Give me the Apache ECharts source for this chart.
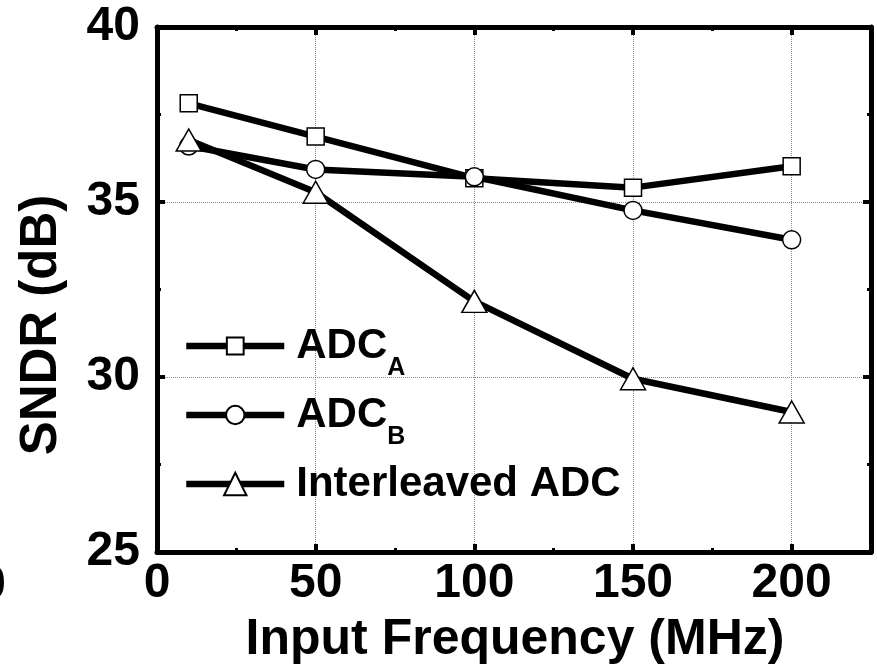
<!DOCTYPE html>
<html>
<head>
<meta charset="utf-8">
<script src="https://cdn.jsdelivr.net/npm/echarts@6/dist/echarts.min.js"></script>
<style>html,body{margin:0;padding:0;background:#fff}#c{width:877px;height:670px}</style>
</head>
<body>
<div id="c"></div>
<script>
var freq = [10, 50, 100, 150, 200];
var adcA = [37.82, 36.87, 35.68, 35.41, 36.02];
var adcB = [36.6, 35.93, 35.72, 34.76, 33.92];
var inter = [36.77, 35.28, 32.16, 29.95, 29.0];
var seriesNames = ['ADCA', 'ADCB', 'Interleaved ADC'];
var legendLabels = ['ADC{sub|A}', 'ADC{sub|B}', 'Interleaved ADC'];
var xTicks = [0, 50, 100, 150, 200];
var yTicks = [25, 30, 35, 40];

var FONT = "'Liberation Sans', Arial, sans-serif";
function pairs(xs, ys) { return xs.map(function (x, i) { return [x, ys[i]]; }); }

var chart = echarts.init(document.getElementById('c'), null, {renderer: 'canvas'});

var majorTick = {show: true, inside: true, length: 8, lineStyle: {color: '#000', width: 4}};
var minorTickStyle = {show: true, inside: true, length: 4, lineStyle: {color: '#000', width: 3}};
var frameLine = {show: true, onZero: false, lineStyle: {color: '#000', width: 5}};
var grid = {type: 'dotted', color: '#8a8a8a', width: 1};
var LW = 6.5;

function legendFor(i, top, ih) {
  return {
    show: true, orient: 'vertical', left: 183, top: top, padding: 0,
    selectedMode: false,
    itemWidth: 98, itemHeight: ih,
    lineStyle: {color: '#000', width: LW},
    data: [seriesNames[i]],
    formatter: function () { return legendLabels[i]; },
    textStyle: {
      fontFamily: FONT, fontWeight: 'bold', fontSize: 42, color: '#000',
      lineHeight: 70, padding: [0, 0, 0, 7],
      rich: {sub: {fontFamily: FONT, fontWeight: 'bold', fontSize: 25, lineHeight: 25, verticalAlign: 'bottom', color: '#000'}}
    }
  };
}

var option = {
  animation: false,
  backgroundColor: '#fff',
  grid: {left: 157, right: 6, top: 27, bottom: 118, containLabel: false},
  xAxis: [
    {type: 'value', position: 'bottom', min: 0, max: 225, interval: 50,
      axisLine: frameLine, axisTick: majorTick,
      axisLabel: {show: true, margin: 8, showMaxLabel: false, color: '#000', fontFamily: FONT, fontWeight: 'bold', fontSize: 48,
        formatter: function (v) { return xTicks.indexOf(v) >= 0 ? String(v) : ''; }},
      splitLine: {show: true, lineStyle: grid}},
    {type: 'value', position: 'top', min: 0, max: 225, interval: 50,
      axisLine: frameLine, axisTick: majorTick, axisLabel: {show: false}, splitLine: {show: false}},
    {type: 'value', position: 'bottom', min: 0, max: 225, interval: 25,
      axisLine: {show: false}, axisTick: minorTickStyle, axisLabel: {show: false}, splitLine: {show: false}},
    {type: 'value', position: 'top', min: 0, max: 225, interval: 25,
      axisLine: {show: false}, axisTick: minorTickStyle, axisLabel: {show: false}, splitLine: {show: false}}
  ],
  yAxis: [
    {type: 'value', position: 'left', min: 25, max: 40, interval: 5,
      axisLine: frameLine, axisTick: majorTick,
      minorTick: {show: true, splitNumber: 2, length: 4, lineStyle: {color: '#000', width: 3}},
      axisLabel: {show: true, margin: 17, color: '#000', fontFamily: FONT, fontWeight: 'bold', fontSize: 48, padding: [0, 0, 8, 0],
        formatter: function (v) { return yTicks.indexOf(v) >= 0 ? String(v) : ''; }},
      splitLine: {show: true, lineStyle: grid}},
    {type: 'value', position: 'right', min: 25, max: 40, interval: 5,
      axisLine: frameLine, axisTick: majorTick,
      minorTick: {show: true, splitNumber: 2, length: 4, lineStyle: {color: '#000', width: 3}},
      axisLabel: {show: false}, splitLine: {show: false}}
  ],
  legend: [legendFor(0, 311, 21), legendFor(1, 380, 23), legendFor(2, 449, 28)],
  graphic: [
    {type: 'text', x: 515, y: 640, style: {text: 'Input Frequency (MHz)', fontFamily: FONT, fontWeight: 'bold', fontSize: 50, fill: '#000', align: 'center', verticalAlign: 'middle'}},
    {type: 'text', x: 42, y: 325, rotation: Math.PI / 2, style: {text: 'SNDR (dB)', fontFamily: FONT, fontWeight: 'bold', fontSize: 51, fill: '#000', align: 'center', verticalAlign: 'middle'}},
    {type: 'text', x: 6, y: 586, style: {text: '0', fontFamily: FONT, fontWeight: 'bold', fontSize: 48, fill: '#000', align: 'right', verticalAlign: 'middle'}}
  ],
  series: [
    {name: seriesNames[0], type: 'line', data: pairs(freq, adcA), symbol: 'rect', symbolSize: 17,
      lineStyle: {color: '#000', width: LW}, itemStyle: {color: '#fff', borderColor: '#000', borderWidth: 1.5}, z: 3},
    {name: seriesNames[1], type: 'line', data: pairs(freq, adcB), symbol: 'circle', symbolSize: 18,
      lineStyle: {color: '#000', width: LW}, itemStyle: {color: '#fff', borderColor: '#000', borderWidth: 1.5}, z: 4},
    {name: seriesNames[2], type: 'line', data: pairs(freq, inter), symbol: 'triangle', symbolSize: [25, 22],
      lineStyle: {color: '#000', width: LW}, itemStyle: {color: '#fff', borderColor: '#000', borderWidth: 1.5}, z: 5}
  ]
};
chart.setOption(option);
</script>
</body>
</html>
